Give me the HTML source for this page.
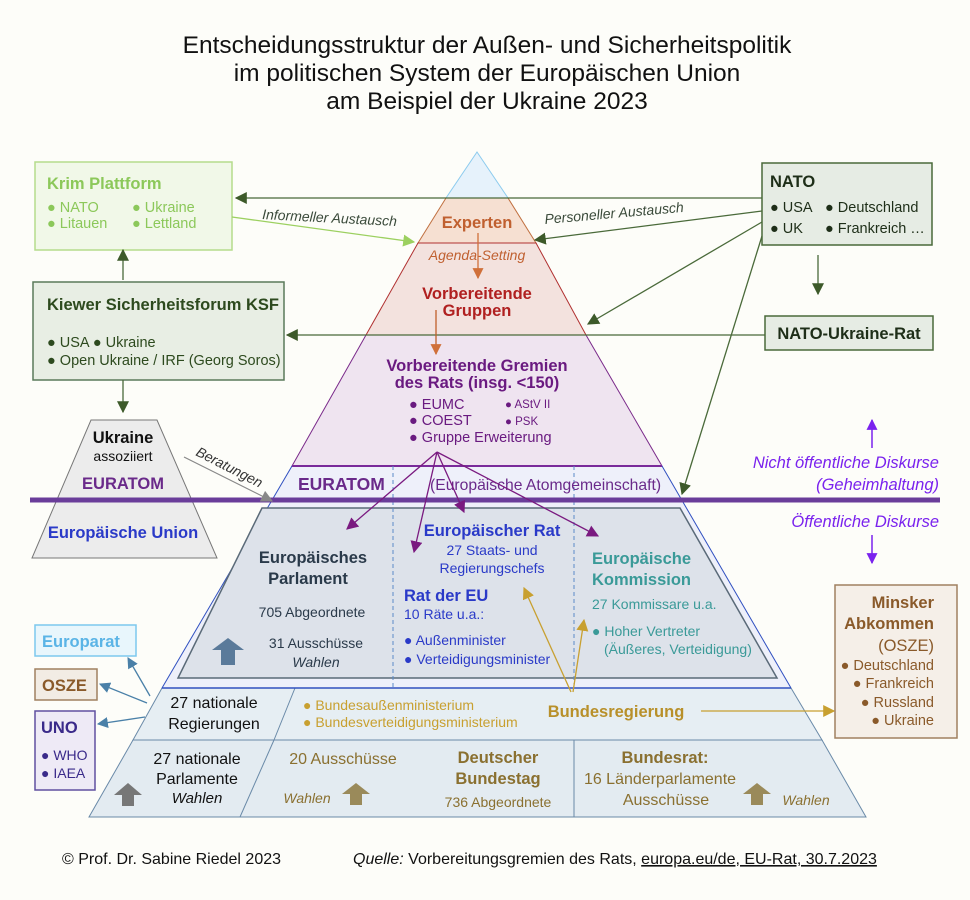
<!DOCTYPE html>
<html><head><meta charset="utf-8"><style>
body{margin:0;background:#fdfdf9;}
svg{display:block;font-family:"Liberation Sans",sans-serif;}
</style></head><body>
<svg width="970" height="900" viewBox="0 0 970 900" xmlns="http://www.w3.org/2000/svg">
<defs>
<marker id="ag" viewBox="0 0 10 10" refX="9" refY="5" markerWidth="9" markerHeight="9" markerUnits="userSpaceOnUse" orient="auto"><path d="M0,0L10,5L0,10z" fill="#3d5a2a"/></marker>
<marker id="alg" viewBox="0 0 10 10" refX="9" refY="5" markerWidth="12" markerHeight="12" markerUnits="userSpaceOnUse" orient="auto"><path d="M0,0L10,5L0,10z" fill="#9cd060"/></marker>
<marker id="ap" viewBox="0 0 10 10" refX="9" refY="5" markerWidth="12" markerHeight="12" markerUnits="userSpaceOnUse" orient="auto"><path d="M0,0L10,5L0,10z" fill="#7a1a80"/></marker>
<marker id="ao" viewBox="0 0 10 10" refX="9" refY="5" markerWidth="11" markerHeight="11" markerUnits="userSpaceOnUse" orient="auto"><path d="M0,0L10,5L0,10z" fill="#d0703a"/></marker>
<marker id="agd" viewBox="0 0 10 10" refX="9" refY="5" markerWidth="12" markerHeight="12" markerUnits="userSpaceOnUse" orient="auto"><path d="M0,0L10,5L0,10z" fill="#c8a030"/></marker>
<marker id="agr" viewBox="0 0 10 10" refX="9" refY="5" markerWidth="12" markerHeight="12" markerUnits="userSpaceOnUse" orient="auto"><path d="M0,0L10,5L0,10z" fill="#888"/></marker>
<marker id="ab" viewBox="0 0 10 10" refX="9" refY="5" markerWidth="11" markerHeight="11" markerUnits="userSpaceOnUse" orient="auto"><path d="M0,0L10,5L0,10z" fill="#4a80a8"/></marker>
<marker id="av" viewBox="0 0 10 10" refX="9" refY="5" markerWidth="11" markerHeight="11" markerUnits="userSpaceOnUse" orient="auto"><path d="M0,0L10,5L0,10z" fill="#7a22ee"/></marker>
</defs>
<marker id="agb" viewBox="0 0 10 10" refX="9" refY="5" markerWidth="12" markerHeight="12" markerUnits="userSpaceOnUse" orient="auto"><path d="M0,0L10,5L0,10z" fill="#3d5a2a"/></marker>
<g font-size="24.5" fill="#111" text-anchor="middle">
<text x="487" y="53">Entscheidungsstruktur der Außen- und Sicherheitspolitik</text>
<text x="487" y="81">im politischen System der Europäischen Union</text>
<text x="487" y="109">am Beispiel der Ukraine 2023</text>
</g>

<polygon points="477,152 446,198 508,198" fill="#e6f2fb" stroke="#8ccbee"/>
<polygon points="446,198 508,198 536,243 418,243" fill="#f6e0d2" stroke="#c07040"/>
<polygon points="418,243 536,243 586,335 366,335" fill="#f3e2de" stroke="#b03030"/>
<polygon points="366,335 586,335 662,466 292,466" fill="#efe4f0" stroke="#7a2a8a"/>
<polygon points="292,466 662,466 791,688 162,688" fill="#eef0fa" stroke="#3050c0"/>
<line x1="292" y1="466" x2="662" y2="466" stroke="#7a2a9a" stroke-width="2"/>
<polygon points="262,508 680,508 777,678 178,678" fill="#dde2ea" stroke="#5a6a78" stroke-width="1.5"/>
<line x1="393" y1="466" x2="393" y2="688" stroke="#5a8ac8" stroke-dasharray="4,3"/>
<line x1="574" y1="466" x2="574" y2="688" stroke="#5a8ac8" stroke-dasharray="4,3"/>
<polygon points="162,688 791,688 822,740 133,740" fill="#e6eef3" stroke="#6a8aa8"/>
<polygon points="133,740 822,740 866,817 89,817" fill="#e3ebf1" stroke="#6a8aa8"/>
<line x1="295" y1="688" x2="274" y2="740" stroke="#6a8aa8"/>
<line x1="274" y1="740" x2="240" y2="817" stroke="#6a8aa8"/>
<line x1="574" y1="740" x2="574" y2="817" stroke="#6a8aa8"/>
<line x1="162" y1="688" x2="791" y2="688" stroke="#3050c0" stroke-width="1.5"/>

<polygon points="91,420 157,420 217,558 32,558" fill="#ececec" stroke="#777"/>
<line x1="30" y1="500" x2="940" y2="500" stroke="#6a3d9a" stroke-width="5"/>

<rect x="35" y="162" width="197" height="88" fill="#f1f8e8" stroke="#b5dc8c" stroke-width="1.5"/>
<g fill="#8cc85a"><text x="47" y="189" font-size="16.5" font-weight="bold">Krim Plattform</text>
<text x="47" y="212" font-size="14.5">● NATO</text><text x="132" y="212" font-size="14.5">● Ukraine</text>
<text x="47" y="228" font-size="14.5">● Litauen</text><text x="132" y="228" font-size="14.5">● Lettland</text></g>
<rect x="33" y="282" width="251" height="98" fill="#e8eee4" stroke="#5a7a5a" stroke-width="1.5"/>
<g fill="#2d4a1e"><text x="47" y="310" font-size="16.5" font-weight="bold">Kiewer Sicherheitsforum KSF</text>
<text x="47" y="347" font-size="14.5">● USA ● Ukraine</text>
<text x="47" y="365" font-size="14.5">● Open Ukraine / IRF (Georg Soros)</text></g>
<rect x="762" y="163" width="170" height="82" fill="#e6ece4" stroke="#4a6a3a" stroke-width="1.5"/>
<g fill="#1e2e18"><text x="770" y="187" font-size="16.5" font-weight="bold">NATO</text>
<text x="770" y="212" font-size="14.5">● USA</text><text x="825" y="212" font-size="14.5">● Deutschland</text>
<text x="770" y="233" font-size="14.5">● UK</text><text x="825" y="233" font-size="14.5">● Frankreich …</text></g>
<rect x="765" y="316" width="168" height="34" fill="#e6ece4" stroke="#4a6a3a" stroke-width="1.5"/>
<text x="849" y="339" font-size="16.5" font-weight="bold" fill="#1e2e18" text-anchor="middle">NATO-Ukraine-Rat</text>

<g stroke="#4a6a3a" stroke-width="1.3" fill="none">
<line x1="762" y1="198" x2="236" y2="198" marker-end="url(#agb)"/>
<line x1="762" y1="211" x2="535" y2="240" marker-end="url(#agb)"/>
<line x1="762" y1="222" x2="588" y2="324" marker-end="url(#agb)"/>
<line x1="762" y1="236" x2="682" y2="494" marker-end="url(#agb)"/>
<line x1="818" y1="255" x2="818" y2="294" marker-end="url(#agb)"/>
<line x1="765" y1="335" x2="287" y2="335" marker-end="url(#agb)"/>
<line x1="123" y1="280" x2="123" y2="250" marker-end="url(#agb)"/>
<line x1="123" y1="380" x2="123" y2="412" marker-end="url(#agb)"/>
</g>
<line x1="232" y1="217" x2="414" y2="242" stroke="#9cd060" stroke-width="1.3" marker-end="url(#alg)"/>
<text x="262" y="219" font-size="14" font-style="italic" fill="#3a4a3a" transform="rotate(3 262 219)">Informeller Austausch</text>
<text x="545" y="224" font-size="14" font-style="italic" fill="#3a4a3a" transform="rotate(-5 545 224)">Personeller Austausch</text>

<text x="477" y="228" font-size="16.5" font-weight="bold" fill="#c06030" text-anchor="middle">Experten</text>
<text x="477" y="260" font-size="14" font-style="italic" fill="#c06030" text-anchor="middle">Agenda-Setting</text>
<line x1="478" y1="233" x2="478" y2="278" stroke="#d0703a" stroke-width="1.3" marker-end="url(#ao)"/>
<g fill="#b02020" font-size="16.5" font-weight="bold" text-anchor="middle"><text x="477" y="299">Vorbereitende</text><text x="477" y="316">Gruppen</text></g>
<line x1="436" y1="310" x2="436" y2="354" stroke="#c0602a" stroke-width="1.3" marker-end="url(#ao)"/>
<g fill="#6a1a80" text-anchor="middle" font-size="16.5" font-weight="bold"><text x="477" y="371">Vorbereitende Gremien</text><text x="477" y="388">des Rats (insg. &lt;150)</text></g>
<g fill="#6a1a80" font-size="14.5"><text x="409" y="409">● EUMC</text><text x="409" y="425">● COEST</text><text x="409" y="442">● Gruppe Erweiterung</text></g>
<g fill="#6a1a80" font-size="11.5"><text x="505" y="408">● AStV II</text><text x="505" y="425">● PSK</text></g>
<text x="298" y="490" font-size="17.5" font-weight="bold" fill="#6a2a8a">EURATOM</text>
<text x="430" y="490" font-size="15.7" fill="#6a2a8a">(Europäische Atomgemeinschaft)</text>
<g stroke="#7a1a80" stroke-width="1.3">
<line x1="437" y1="452" x2="347" y2="529" marker-end="url(#ap)"/>
<line x1="437" y1="452" x2="414" y2="552" marker-end="url(#ap)"/>
<line x1="437" y1="452" x2="464" y2="512" marker-end="url(#ap)"/>
<line x1="437" y1="452" x2="598" y2="536" marker-end="url(#ap)"/>
</g>
<g fill="#2a3a4a" text-anchor="middle"><text x="313" y="563" font-size="16.5" font-weight="bold">Europäisches</text><text x="308" y="584" font-size="16.5" font-weight="bold">Parlament</text>
<text x="312" y="617" font-size="14">705 Abgeordnete</text><text x="316" y="648" font-size="14">31 Ausschüsse</text><text x="316" y="667" font-size="14" font-style="italic">Wahlen</text></g>
<polygon points="221,647 235,647 235,665 221,665" fill="#5a7a9a"/><polygon points="212,650 228,638 244,650" fill="#5a7a9a"/>
<g fill="#2a3ac8" text-anchor="middle"><text x="492" y="536" font-size="16.5" font-weight="bold">Europäischer Rat</text>
<text x="492" y="555" font-size="14">27 Staats- und</text><text x="492" y="573" font-size="14">Regierungschefs</text></g>
<g fill="#2a3ac8"><text x="404" y="601" font-size="16.5" font-weight="bold">Rat der EU</text><text x="404" y="619" font-size="14">10 Räte u.a.:</text>
<text x="404" y="645" font-size="14">● Außenminister</text><text x="404" y="664" font-size="14">● Verteidigungsminister</text></g>
<g fill="#3a9a98"><text x="592" y="564" font-size="16.5" font-weight="bold">Europäische</text><text x="592" y="585" font-size="16.5" font-weight="bold">Kommission</text>
<text x="592" y="609" font-size="14">27 Kommissare u.a.</text><text x="592" y="636" font-size="14">● Hoher Vertreter</text><text x="604" y="654" font-size="14">(Äußeres, Verteidigung)</text></g>
<g stroke="#c8a030" stroke-width="1.3"><line x1="571" y1="692" x2="524" y2="588" marker-end="url(#agd)"/><line x1="573" y1="692" x2="584" y2="620" marker-end="url(#agd)"/></g>
<g fill="#111" text-anchor="middle" font-size="16"><text x="214" y="708">27 nationale</text><text x="214" y="729">Regierungen</text>
<text x="197" y="764">27 nationale</text><text x="197" y="784">Parlamente</text><text x="197" y="803" font-style="italic" font-size="15">Wahlen</text></g>
<polygon points="122,792 134,792 134,806 122,806" fill="#777"/><polygon points="114,795 128,783 142,795" fill="#777"/>
<g fill="#c8a030" font-size="14"><text x="303" y="710">● Bundesaußenministerium</text><text x="303" y="727">● Bundesverteidigungsministerium</text></g>
<text x="616" y="717" font-size="16.5" font-weight="bold" fill="#b8902a" text-anchor="middle">Bundesregierung</text>
<line x1="701" y1="711" x2="834" y2="711" stroke="#c8a030" stroke-width="1.3" marker-end="url(#agd)"/>
<g fill="#8a7030" text-anchor="middle"><text x="343" y="764" font-size="16">20 Ausschüsse</text>
<text x="498" y="763" font-size="16.5" font-weight="bold">Deutscher</text><text x="498" y="784" font-size="16.5" font-weight="bold">Bundestag</text>
<text x="498" y="807" font-size="14">736 Abgeordnete</text><text x="307" y="803" font-size="14" font-style="italic">Wahlen</text>
<text x="665" y="763" font-size="16.5" font-weight="bold">Bundesrat:</text><text x="660" y="784" font-size="16">16 Länderparlamente</text><text x="666" y="805" font-size="16">Ausschüsse</text>
<text x="806" y="805" font-size="14" font-style="italic">Wahlen</text></g>
<g fill="#9a8a5a"><polygon points="350,792 362,792 362,805 350,805"/><polygon points="342,794 356,783 370,794"/>
<polygon points="751,792 763,792 763,805 751,805"/><polygon points="743,794 757,783 771,794"/></g>
<text x="123" y="443" font-size="16.5" font-weight="bold" fill="#111" text-anchor="middle">Ukraine</text>
<text x="123" y="461" font-size="14" fill="#111" text-anchor="middle">assoziiert</text>
<text x="123" y="489" font-size="16.5" font-weight="bold" fill="#6a2a8a" text-anchor="middle">EURATOM</text>
<text x="123" y="538" font-size="16.5" font-weight="bold" fill="#2a3ac8" text-anchor="middle">Europäische Union</text>
<line x1="184" y1="457" x2="272" y2="501" stroke="#888" stroke-width="1.2" marker-end="url(#agr)"/>
<text x="195" y="455" font-size="14" font-style="italic" fill="#333" transform="rotate(27 195 455)">Beratungen</text>
<g fill="#7a22ee" font-size="16.5" font-style="italic" text-anchor="end"><text x="939" y="468">Nicht öffentliche Diskurse</text><text x="939" y="490">(Geheimhaltung)</text><text x="939" y="527">Öffentliche Diskurse</text></g>
<line x1="872" y1="448" x2="872" y2="420" stroke="#7a22ee" stroke-width="1.5" marker-end="url(#av)"/>
<line x1="872" y1="535" x2="872" y2="563" stroke="#7a22ee" stroke-width="1.5" marker-end="url(#av)"/>
<rect x="835" y="585" width="122" height="153" fill="#f5efe8" stroke="#a08060" stroke-width="1.5"/>
<g fill="#8a5a2a" text-anchor="end" font-size="14.5"><text x="934" y="608" font-weight="bold" font-size="16.5">Minsker</text><text x="934" y="629" font-weight="bold" font-size="16.5">Abkommen</text><text x="934" y="651" font-size="16.5">(OSZE)</text>
<text x="934" y="670">● Deutschland</text><text x="934" y="688">● Frankreich</text><text x="934" y="707">● Russland</text><text x="934" y="725">● Ukraine</text></g>
<rect x="35" y="625" width="101" height="31" fill="#e8f6fc" stroke="#7cc8ee" stroke-width="1.5"/>
<text x="42" y="647" font-size="16.5" font-weight="bold" fill="#5ab4e6">Europarat</text>
<rect x="35" y="669" width="62" height="31" fill="#f2ece4" stroke="#a08060" stroke-width="1.5"/>
<text x="42" y="691" font-size="16.5" font-weight="bold" fill="#8a5a2a">OSZE</text>
<rect x="35" y="711" width="60" height="79" fill="#eeeaf6" stroke="#6050a0" stroke-width="1.5"/>
<text x="41" y="733" font-size="16.5" font-weight="bold" fill="#3a2a8a">UNO</text>
<g fill="#3a2a8a" font-size="14"><text x="41" y="760">● WHO</text><text x="41" y="778">● IAEA</text></g>
<g stroke="#4a80a8" stroke-width="1.3"><line x1="150" y1="696" x2="128" y2="658" marker-end="url(#ab)"/><line x1="147" y1="703" x2="100" y2="684" marker-end="url(#ab)"/><line x1="145" y1="717" x2="98" y2="724" marker-end="url(#ab)"/></g>
<text x="62" y="864" font-size="16" fill="#111">©  Prof. Dr. Sabine Riedel 2023</text>
<text x="353" y="864" font-size="16" fill="#111"><tspan font-style="italic">Quelle:</tspan> Vorbereitungsgremien des Rats, <tspan text-decoration="underline">europa.eu/de, EU-Rat, 30.7.2023</tspan></text>
</svg>
</body></html>
